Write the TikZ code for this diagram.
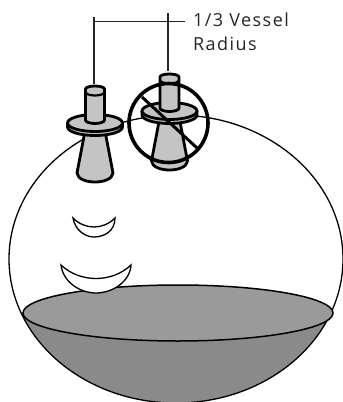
\documentclass[tikz,border=0pt]{standalone}
\usepackage{fontspec}
\setmainfont[LetterSpace=8]{Open Sans}
\definecolor{liquidside}{HTML}{8A8A8A}
\definecolor{liquidtop}{HTML}{9A9A9A}
\definecolor{probegray}{HTML}{C4C4C4}
\tikzset{
  thinline/.style={draw=black,line width=1.3pt},
  probeline/.style={draw=black,line width=2.8pt,line join=round},
  dimline/.style={draw=black!85,line width=1.2pt},
  forbid/.style={draw=black,line width=3.6pt},
  label/.style={anchor=base west,inner sep=0pt,font=\fontsize{18}{20}\selectfont,text=black!85}
}
\newcommand{\probe}[2]{%
  \begin{scope}[shift={(#1,#2)}]
    % horn
    \path[probeline,fill=probegray] (-10,8) -- (-18,50) .. controls (-17,62) and (17,62) .. (18,50) -- (10,8) -- cycle;
    % flange
    \path[probeline,fill=probegray] (-27.5,0) -- (-27.5,4) arc[start angle=180,end angle=0,x radius=27.5,y radius=8.5] -- (27.5,0) -- cycle;
    \path[probeline,fill=probegray] (0,0) ellipse[x radius=27.5,y radius=8.5];
    % tube
    \path[probeline,fill=probegray] (-9.5,-34) -- (-9.5,-3) arc[start angle=180,end angle=0,x radius=9.5,y radius=3.5] -- (9.5,-34) arc[start angle=0,end angle=-180,x radius=9.5,y radius=3] -- cycle;
    \path[draw=black,line width=2.2pt] (-9.5,-31) arc[start angle=180,end angle=0,x radius=9.5,y radius=3.5];
  \end{scope}}
\begin{document}
\begin{tikzpicture}[x=1pt,y=-1pt]
\useasboundingbox (0,0) rectangle (343,402);
\fill[white] (0,0) rectangle (343,402);
% liquid body
\begin{scope}
  \clip (176,259) ellipse[x radius=167,y radius=144];
  \fill[liquidside] (0,313) rectangle (343,410);
\end{scope}
% vessel
\path[thinline] (176,259) ellipse[x radius=167,y radius=144];
% liquid surface
\path[draw=black,line width=1.5pt,fill=liquidtop] (178,313) ellipse[x radius=155,y radius=28];
% echoes
\path[thinline,fill=white] (73,218) .. controls (85,230) and (103,230) .. (115,218) .. controls (115,232) and (103,237) .. (94,237) .. controls (85,237) and (75,230) .. (73,218) -- cycle;
\path[thinline,fill=white] (61,265) .. controls (80,283) and (112,283) .. (131,265) .. controls (130,282) and (112,293) .. (96,293) .. controls (80,293) and (63,282) .. (61,265) -- cycle;
% probes
\probe{95}{123}
\probe{169.5}{111}
% dimension
\coordinate (leftend) at (94,17);
\coordinate (leftbase) at (94,84);
\coordinate (rightend) at (168,13);
\coordinate (rightbase) at (168,71);
\coordinate (dimleft) at (94,21.7);
\coordinate (dimright) at (185,21.7);
\path[dimline] (leftend) -- (leftbase);
\path[dimline] (rightend) -- (rightbase);
\path[dimline] (dimleft) -- (dimright);
% prohibition sign
\coordinate (signcentre) at (168.5,123);
\path[forbid] (signcentre) circle[radius=39.5];
\coordinate (slasha) at (142,97);
\coordinate (slashb) at (197,148);
\path[draw=black,line width=3pt] (slasha) -- (slashb);
% labels
\node[label] (line1) at (193,26) {1/3 Vessel};
\node[label] (line2) at (193,50) {Radius};
\end{tikzpicture}
\end{document}
